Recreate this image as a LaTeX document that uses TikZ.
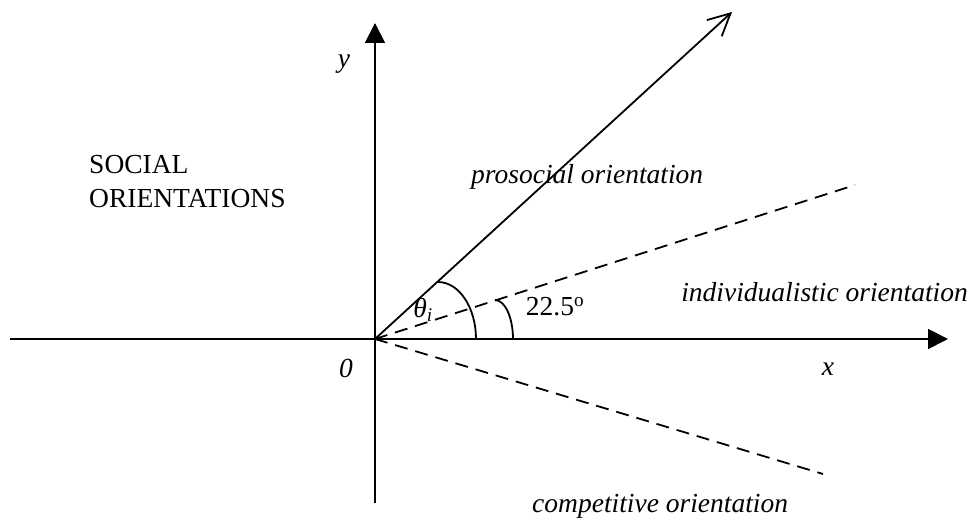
\documentclass[tikz,border=0pt]{standalone}
\usepackage{fontspec}
\setmainfont{Liberation Serif}
\usetikzlibrary{arrows.meta}

\begin{document}
\begin{tikzpicture}[x=1pt,y=1pt,line width=1.8pt,
    every node/.style={font=\fontsize{27.5}{34}\selectfont},
    axis/.style={-{Triangle[length=20pt,width=20pt]}},
    orient/.style={dash pattern=on 13pt off 8pt}]
                \useasboundingbox (-375,-179) rectangle (597,339);

                \coordinate (O) at (0,0);
                \coordinate (xl) at (-365,0);
                \coordinate (xr) at (573,0);
                \coordinate (yb) at (0,-164);
                \coordinate (yt) at (0,316);
                \coordinate (pro) at (357,327);
                \coordinate (ind) at (480,154);
                \coordinate (com) at (448,-135);

                \draw[axis] (xl) -- (xr);
                \draw[axis] (yb) -- (yt);
                \draw[-{Straight Barb[length=22pt,width=22pt]}] (O) -- (pro);
                \draw[orient] (O) -- (ind);
                \draw[orient] (O) -- (com);

                \draw (63,57) arc[start angle=90,end angle=0,x radius=38,y radius=57];
                \draw (120,39) arc[start angle=90,end angle=0,x radius=18,y radius=39];

                \node at (-31,275) (ylab) {\textit{y}};
                \node at (453,-30) (xlab) {\textit{x}};
                \node at (-29,-29) (zero) {\textit{0}};
                \node[anchor=west,align=left] at (-290,157) (title) {SOCIAL\\ORIENTATIONS};
                \node[anchor=west] at (92,162) (plab) {\textit{prosocial orientation}};
                \node[anchor=east] at (597,47) (ilab) {\textit{individualistic orientation}};
                \node[anchor=west] at (153,-167) (clab) {\textit{competitive orientation}};
                \node at (48,29) (theta) {\textit{θ\textsubscript{i}}};
                \node at (180,32) (ang) {22.5\textsuperscript{o}};
            \end{tikzpicture}
\end{document}
